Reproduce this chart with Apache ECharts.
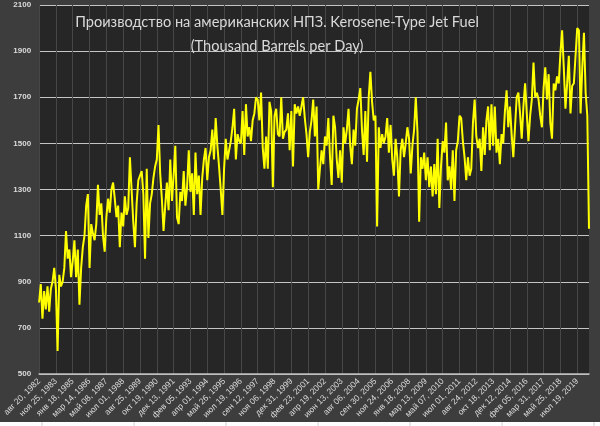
<!DOCTYPE html>
<html>
<head>
<meta charset="utf-8">
<script src="https://cdn.jsdelivr.net/npm/echarts@6/dist/echarts.min.js"></script>
<style>
html,body{margin:0;padding:0;background:#3d3d3d;}
#chart{width:600px;height:426px;}
</style>
</head>
<body>
<div id="chart"></div>
<script>
// Tick labels (one every 60 weeks in the source chart)
const tickLabels = ["авг 20, 1982","ноя 25, 1983","янв 18, 1985","мар 14, 1986","май 08, 1987","июл 01, 1988","авг 25, 1989","окт 19, 1990","дек 13, 1991","фев 05, 1993","апр 01, 1994","май 26, 1995","июл 19, 1996","сен 12, 1997","ноя 06, 1998","дек 31, 1999","фев 23, 2001","апр 19, 2002","июн 13, 2003","авг 06, 2004","сен 30, 2005","ноя 24, 2006","янв 18, 2008","мар 13, 2009","май 07, 2010","июл 01, 2011","авг 24, 2012","окт 18, 2013","дек 12, 2014","фев 05, 2016","мар 31, 2017","май 25, 2018","июл 19, 2019"];
const pointsPerTick = 10; // sampled values per label interval (~6 weeks each)

// Kerosene-type jet fuel production, thousand barrels per day
const values1982_1988 = [810,890,740,860,780,880,770,870,900,960, 870,600,930,880,900,960,1120,1000,1040,920, 990,1080,920,1040,800,960,1050,1100,1230,1280, 960,1150,1110,1080,1150,1320,1190,1240,1100,1030, 1180,1260,1200,1300,1330,1260,1180,1230,1050,1200, 1140,1270,1190,1220,1440,1300,1160,1050,1240,1340];
const values1989_1997 = [1340,1380,1280,1000,1390,1090,1240,1280,1350,1400, 1430,1580,1370,1260,1120,1230,1330,1210,1430,1250, 1360,1490,1180,1150,1290,1250,1380,1230,1310,1470, 1290,1370,1190,1460,1280,1360,1190,1350,1430,1480, 1340,1440,1470,1560,1430,1610,1490,1400,1300,1190, 1390,1520,1430,1470,1510,1570,1650,1430,1540,1510, 1500,1640,1450,1670,1530,1570,1510,1600,1630,1700];
const values1997_2006 = [1690,1600,1720,1480,1390,1530,1390,1680,1640,1310, 1620,1650,1540,1530,1700,1520,1550,1560,1630,1470, 1640,1400,1670,1630,1660,1620,1660,1700,1610,1540, 1440,1550,1600,1690,1530,1660,1300,1390,1470,1410, 1530,1490,1610,1440,1320,1620,1570,1430,1350,1470, 1330,1570,1500,1560,1650,1490,1410,1560,1490,1650, 1690,1740,1560,1450,1640,1420,1700,1810,1680,1600, 1620,1140,1570,1480,1540,1500,1530,1610,1460,1580];
const values2006_2013 = [1430,1360,1520,1440,1270,1470,1520,1440,1500,1570, 1520,1370,1490,1560,1700,1550,1160,1440,1390,1460, 1340,1440,1310,1400,1270,1410,1280,1520,1220,1400, 1510,1460,1590,1340,1400,1300,1470,1250,1470,1510, 1620,1610,1510,1440,1340,1440,1360,1390,1590,1690, 1530,1480,1520,1380,1570,1450,1600,1660,1470,1670];
const values2013_2020 = [1490,1660,1460,1520,1410,1540,1500,1640,1730,1570, 1660,1540,1440,1570,1700,1720,1630,1520,1660,1760, 1630,1510,1620,1690,1850,1700,1720,1690,1620,1570, 1740,1830,1690,1800,1590,1520,1760,1730,1790,1760, 1890,1990,1830,1650,1760,1880,1630,1750,1760,1880, 2000,1990,1630,1830,1980,1720,1620,1130];

const yTicks = {min: 500, max: 2100, step: 200};

const values = [].concat(values1982_1988, values1989_1997, values1997_2006, values2006_2013, values2013_2020);
const categories = values.map((v, i) => String(i));

const chart = echarts.init(document.getElementById('chart'), null, {renderer: 'canvas'});
const cellLines = [42, 134, 226, 318, 410, 502, 594].map(x => ({
  type: 'line', shape: {x1: x, y1: 422, x2: x, y2: 426}, style: {stroke: '#d0d0d0', lineWidth: 1}, z: 100
}));
chart.setOption({
  backgroundColor: '#3d3d3d',
  animation: false,
  grid: {left: 38, right: 11, top: 5, bottom: 52, show: true, backgroundColor: '#262626', borderWidth: 0},
  xAxis: {
    type: 'category',
    data: categories,
    boundaryGap: false,
    axisLine: {show: true, lineStyle: {color: '#bdbdbd', width: 1.5}},
    axisTick: {show: false},
    axisLabel: {
      interval: pointsPerTick - 1,
      rotate: 45,
      margin: 6,
      fontSize: 8.5,
      color: '#dcdcdc',
      fontFamily: 'Liberation Sans',
      formatter: (v, i) => (i % pointsPerTick === 0 ? (tickLabels[i / pointsPerTick] || '') : '')
    },
    splitLine: {show: true, interval: pointsPerTick - 1, lineStyle: {color: '#474747', width: 1}}
  },
  yAxis: {
    type: 'value',
    min: yTicks.min, max: yTicks.max, interval: yTicks.step,
    axisLine: {show: false},
    axisTick: {show: false},
    axisLabel: {fontSize: 8, color: '#dcdcdc', margin: 8, fontFamily: 'Liberation Sans', fontWeight: 'bold',
      formatter: v => String(v)},
    splitLine: {show: true, lineStyle: {color: '#c4c4c4', width: 1}}
  },
  series: [{
    type: 'line',
    data: values,
    showSymbol: false,
    symbol: 'none',
    lineStyle: {color: '#ffff00', width: 2},
    z: 5
  }],
  graphic: [
    {
      type: 'text', x: 277, y: 10, z: 50,
      style: {
        text: 'Производство на американских НПЗ. Kerosene-Type Jet Fuel\n(Thousand Barrels per Day)',
        fill: '#d9d9d9', fontSize: 14.6, lineHeight: 24, fontFamily: 'Lato', textAlign: 'center'
      }
    },
    {type: 'rect', shape: {x: 0, y: 422, width: 600, height: 4}, style: {fill: '#ffffff'}, z: 90}
  ].concat(cellLines)
});
</script>
</body>
</html>
